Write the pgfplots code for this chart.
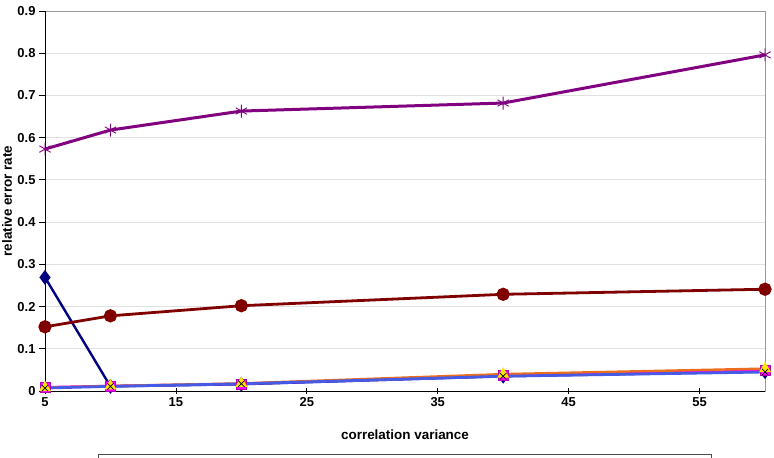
\documentclass[border=0pt]{standalone}
\usepackage{pgfplots}
\pgfplotsset{compat=1.18}
\usepackage{fontspec}
\setmainfont{Liberation Sans}

\definecolor{sNavy}{RGB}{0,0,128}
\definecolor{sMag}{RGB}{255,0,255}
\definecolor{sYel}{RGB}{255,230,0}
\definecolor{sOra}{RGB}{235,110,30}
\definecolor{sBlue}{RGB}{70,90,230}
\definecolor{sPurp}{RGB}{128,0,128}
\definecolor{sRed}{RGB}{128,0,0}
\definecolor{gridgray}{RGB}{225,225,225}

\begin{document}
\begin{tikzpicture}[x=1bp,y=1bp]
\begin{axis}[
  at={(0,0)}, anchor=origin,
  scale only axis, width=720bp, height=380bp,
  xmin=5, xmax=60, ymin=0, ymax=0.9,
  xtick={5,15,25,35,45,55},
  ytick={0,0.1,...,0.9},
  /pgf/number format/assume math mode=true,
  /pgf/number format/.cd, fixed, precision=1, /pgfplots/.cd,
  ticklabel style={font=\bfseries\fontsize{13}{15}\selectfont},
  xtick align=center, ytick align=outside,
  major tick length=6bp,
  tick style={black, line width=0.8bp},
  xtick pos=bottom, ytick pos=left,
  ymajorgrids, major grid style={gridgray, line width=0.8bp},
  axis line style={draw=gray!80, line width=0.8bp},
  every axis x label/.style={at={(rel axis cs:0.5,0)}, yshift=-44bp, anchor=center},
  every axis y label/.style={at={(rel axis cs:0,0.5)}, xshift=-38bp, rotate=90, anchor=center},
  label style={font=\bfseries\fontsize{13.5}{16}\selectfont},
  xlabel={correlation variance},
  ylabel={relative error rate},
  clip=false,
]
% first algorithm: large error at the smallest variance only
\addplot[sNavy, line width=2.4bp, mark=diamond*, mark size=5.5bp,
  mark options={fill=sNavy, draw=sNavy}]
  coordinates {(5,0.269) (10,0.011) (20,0.016) (40,0.035) (60,0.046)};
% square series
\addplot[sMag, line width=2.4bp, mark=square*, mark size=5bp,
  mark options={fill=sMag, draw=sMag!70!black, line width=0.5bp}]
  coordinates {(5,0.009) (10,0.012) (20,0.017) (40,0.037) (60,0.048)};
% triangle series
\addplot[sOra, line width=2.4bp, mark=triangle*, mark size=4.5bp,
  mark options={fill=sYel, draw=sYel}]
  coordinates {(5,0.008) (10,0.012) (20,0.018) (40,0.040) (60,0.053)};
% cross series
\addplot[sBlue, line width=2.8bp, mark=x, mark size=4.5bp,
  mark options={black, line width=0.7bp}]
  coordinates {(5,0.007) (10,0.011) (20,0.017) (40,0.035) (60,0.045)};
% star series
\addplot[sPurp, line width=3bp, mark=asterisk, mark size=6.5bp,
  mark options={line width=0.9bp}]
  coordinates {(5,0.573) (10,0.618) (20,0.663) (40,0.682) (60,0.796)};
% circle series
\addplot[sRed, line width=2.8bp, mark=*, mark size=5.2bp,
  mark options={fill=sRed, draw=sRed}]
  coordinates {(5,0.152) (10,0.178) (20,0.202) (40,0.229) (60,0.241)};
% left and bottom axis lines in black
\draw[black, line width=0.9bp] (rel axis cs:0,1) -- (rel axis cs:0,0) -- (rel axis cs:1,0);
\end{axis}
% legend frame below the plot
\draw[gray!60!black, line width=1bp, fill=white] (53,-64) rectangle (666,-90);
\pgfresetboundingbox
\useasboundingbox (-45,-67) rectangle (729,391);
\end{tikzpicture}
\end{document}
